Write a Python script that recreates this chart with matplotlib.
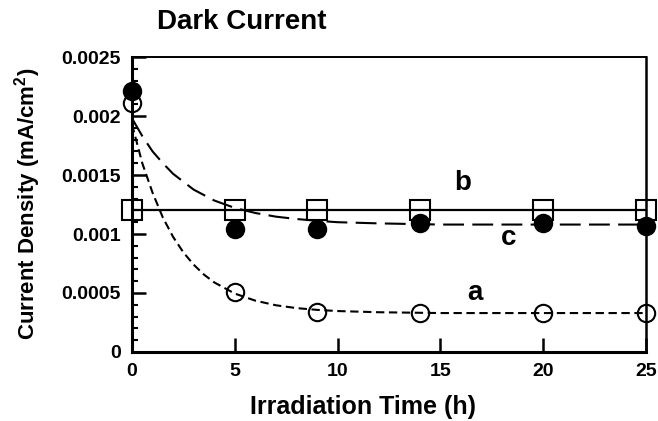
import numpy as np
import matplotlib
matplotlib.use('Agg')
import matplotlib.pyplot as plt
from matplotlib.ticker import MultipleLocator, FixedLocator

plt.rcParams['font.family'] = ['Liberation Sans', 'DejaVu Sans']
plt.rcParams['font.weight'] = 'bold'
plt.rcParams['axes.labelweight'] = 'bold'
plt.rcParams['mathtext.fontset'] = 'custom'
plt.rcParams['mathtext.rm'] = 'Liberation Sans:bold'
plt.rcParams['mathtext.bf'] = 'Liberation Sans:bold'

# measured points
t = [0, 5, 9, 14, 20, 25]
a_pts = [0.00211, 0.00051, 0.00034, 0.00033, 0.00033, 0.00033]
b_pts = [0.0012, 0.0012, 0.0012, 0.0012, 0.0012, 0.0012]
c_pts = [0.00221, 0.00104, 0.00104, 0.00109, 0.00109, 0.00107]

# fitted curves
a_fit_t = [0, 0.5, 1, 1.5, 2, 2.5, 3, 3.5, 4, 5, 6, 7, 8, 9, 10, 12, 15, 25]
a_fit = [0.00193, 0.00160, 0.00135, 0.00114, 0.000975, 0.000844, 0.00074,
         0.000656, 0.00059, 0.000495, 0.000435, 0.000396, 0.000372,
         0.000357, 0.000347, 0.000337, 0.00033, 0.00033]
c_fit_t = [0, 0.5, 1, 1.5, 2, 3, 4, 5, 6, 7, 8, 9, 10, 12, 15, 25]
c_fit = [0.00198, 0.00183, 0.00170, 0.00160, 0.00151, 0.001376, 0.001284,
         0.001221, 0.001178, 0.001147, 0.001127, 0.001112, 0.0011,
         0.00109, 0.00108, 0.00108]
b_fit_t = [0, 25]
b_fit = [0.0012, 0.0012]

fig = plt.figure(figsize=(6.58, 4.21), dpi=100)
ax = fig.add_axes([0.2006, 0.1639, 0.7812, 0.7007])

ax.plot(a_fit_t, a_fit, color='black', lw=1.5, dashes=(4, 2.2))
ax.plot(c_fit_t, c_fit, color='black', lw=1.5, dashes=(10, 4))
ax.plot(b_fit_t, b_fit, color='black', lw=1.6)

ax.plot(t, a_pts, 'o', ms=12.5, mfc='none', mec='black', mew=1.5, clip_on=False)
ax.plot(t, b_pts, 's', ms=14.5, mfc='none', mec='black', mew=1.5, clip_on=False)
ax.plot(t, c_pts, 'o', ms=12.5, mfc='black', mec='black', mew=1.5, clip_on=False)

ax.text(16.1, 0.00143, 'b', fontsize=20, ha='center', va='center')
ax.text(18.3, 0.00097, 'c', fontsize=20, ha='center', va='center')
ax.text(16.7, 0.00050, 'a', fontsize=20, ha='center', va='center')

ax.set_xlim(0, 25)
ax.set_ylim(0, 0.0025)
ax.xaxis.set_major_locator(MultipleLocator(5))
ax.yaxis.set_major_locator(FixedLocator([0, 0.0005, 0.001, 0.0015, 0.002, 0.0025]))
ax.yaxis.set_minor_locator(MultipleLocator(0.0001))
ax.set_yticklabels(['0', '0.0005', '0.001', '0.0015', '0.002', '0.0025'])
ax.tick_params(axis='both', which='major', direction='in', length=10, width=1.8,
               labelsize=14, pad=8)
ax.tick_params(axis='y', which='minor', direction='in', length=4, width=1.5)

ax.spines['left'].set_linewidth(2.2)
ax.spines['bottom'].set_linewidth(2.2)
ax.spines['top'].set_linewidth(1.4)
ax.spines['right'].set_linewidth(1.8)

ax.set_xlabel('Irradiation Time (h)', fontsize=18)
ax.xaxis.set_label_coords(0.45, -0.146)
ax.set_ylabel(r'Current Density (mA/cm$^{2}$)', fontsize=16)
ax.yaxis.set_label_coords(-0.173, 0.502)
fig.text(0.367, 0.948, 'Dark Current', fontsize=20, ha='center', va='center')

fig.savefig('out.png', dpi=100)
